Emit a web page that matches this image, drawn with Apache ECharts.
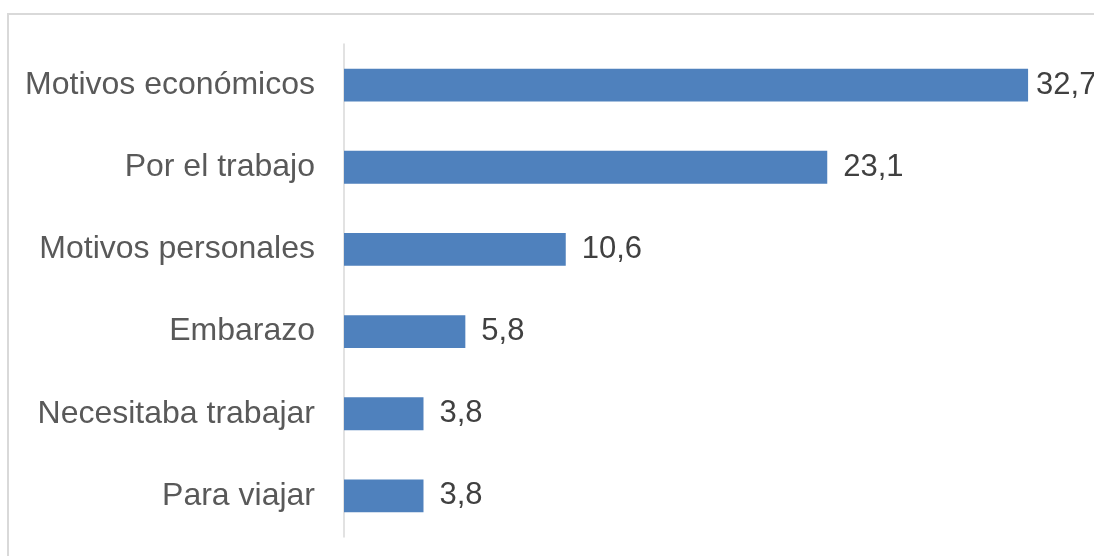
<!DOCTYPE html>
<html>
<head>
<meta charset="utf-8">
<script src="https://cdn.jsdelivr.net/npm/echarts@6/dist/echarts.min.js"></script>
<style>html,body{margin:0;padding:0;background:#fff}#c{width:1094px;height:556px}</style>
</head>
<body>
<div id="c"></div>
<script>
var categories = ["Motivos económicos", "Por el trabajo", "Motivos personales", "Embarazo", "Necesitaba trabajar", "Para viajar"];
var values = [32.7, 23.1, 10.6, 5.8, 3.8, 3.8];

var chart = echarts.init(document.getElementById('c'), null, {renderer: 'canvas'});
var seriesData = values.map(function (v, i) {
  return {value: v, label: {distance: i === 0 ? 8 : 16}};
});
chart.setOption({
  animation: false,
  backgroundColor: '#ffffff',
  graphic: [{
    type: 'rect',
    shape: {x: 8, y: 14, width: 1200, height: 700},
    style: {fill: 'none', stroke: '#d9d9d9', lineWidth: 2},
    silent: true
  }],
  grid: {left: 344, top: 44, bottom: 19, width: 732.2, containLabel: false},
  xAxis: {
    type: 'value', min: 0, max: 35, show: false
  },
  yAxis: {
    type: 'category', data: categories, inverse: true,
    axisLine: {show: true, lineStyle: {color: '#d9d9d9', width: 1.5}},
    axisTick: {show: false},
    axisLabel: {color: '#595959', fontSize: 32, fontFamily: 'Liberation Sans, Arial, sans-serif', margin: 29, padding: [3, 0, 0, 0]}
  },
  series: [{
    type: 'bar', data: seriesData, barWidth: '40%',
    itemStyle: {color: '#4f81bd'},
    label: {
      show: true, position: 'right',
      color: '#404040', fontSize: 31, fontFamily: 'Liberation Sans, Arial, sans-serif',
      padding: [3, 0, 0, 0],
      formatter: function (p) { return String(p.value).replace('.', ','); }
    }
  }]
});
</script>
</body>
</html>
